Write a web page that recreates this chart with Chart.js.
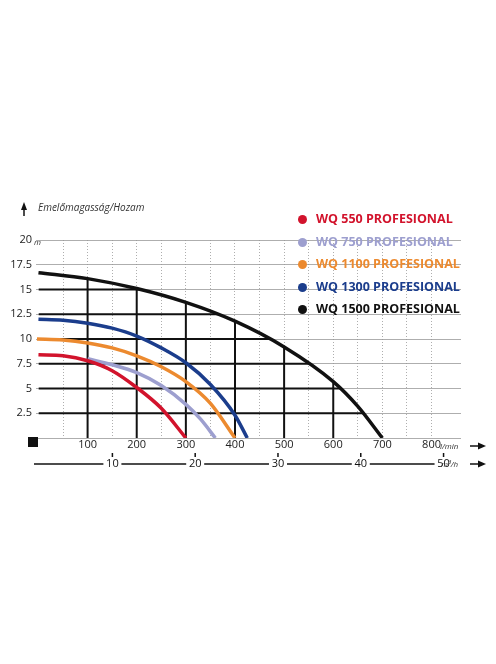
<!DOCTYPE html>
<html><head><meta charset="utf-8">
<script src="https://cdn.jsdelivr.net/npm/chart.js@4/dist/chart.umd.min.js"></script>
<style>
body{margin:0;background:#fff;font-family:"Open Sans",sans-serif;}
#wrap{position:relative;width:496px;height:664px;}
canvas{position:absolute;left:0;top:0;}
.t{position:absolute;white-space:nowrap;}
.lg{position:absolute;left:298px;font-weight:bold;font-size:12.5px;white-space:nowrap;}
.lg span{display:inline-block;width:9px;height:9px;border-radius:50%;margin-right:9px;vertical-align:-1px;}
</style></head><body>
<div id="wrap">
<canvas id="c" width="496" height="664"></canvas>
<div class="t" style="left:38px;top:200px;font-style:italic;font-size:10px;color:#333">Emelőmagasság/Hozam</div>
<div class="t" style="left:34px;top:236px;font-style:italic;font-size:8px;color:#333">m</div>
<div class="t" style="left:440px;top:440px;font-style:italic;font-size:8px;color:#333">l/min</div>
<div class="t" style="left:441px;top:458px;font-style:italic;font-size:8px;color:#333">m³/h</div>
<div id="legend"></div>
</div>
<script>
var flowLmin = [];
var series = [
  { label: "WQ 550 PROFESIONAL", color: "#d2132c",
    x: [0, 50, 100, 150, 200, 250, 300], y: [8.4, 8.3, 7.8, 6.8, 5.1, 3.0, 0] },
  { label: "WQ 750 PROFESIONAL", color: "#9d9fcf",
    x: [100, 150, 200, 250, 300, 330, 360], y: [8.0, 7.4, 6.6, 5.3, 3.4, 1.9, 0] },
  { label: "WQ 1100 PROFESIONAL", color: "#ec8a2f",
    x: [-3, 50, 100, 150, 200, 250, 300, 350, 400], y: [10, 9.9, 9.6, 9.1, 8.3, 7.2, 5.7, 3.5, 0] },
  { label: "WQ 1300 PROFESIONAL", color: "#1b3d8c",
    x: [0, 50, 100, 150, 200, 250, 300, 350, 400, 425], y: [12, 11.9, 11.6, 11.1, 10.3, 9.1, 7.6, 5.4, 2.3, 0] },
  { label: "WQ 1500 PROFESIONAL", color: "#111111",
    x: [0, 100, 200, 300, 400, 500, 600, 650, 700], y: [16.7, 16.1, 15.1, 13.7, 11.8, 9.2, 5.7, 3.2, 0] }
];
var m3Ticks = [10, 20, 30, 40, 50];
// m3/h -> l/min position as printed on the chart
var m3Offset = -18, m3Scale = 16.85;

document.getElementById("legend").innerHTML = series.map(function (s, i) {
  return '<div class="lg" style="top:' + (210 + i * 22.5) + 'px;color:' + s.color + '"><span style="background:' + s.color + '"></span>' + s.label + '</div>';
}).join("");

var extras = {
  id: "extras",
  beforeDatasetsDraw: function (chart) {
    var ctx = chart.ctx, xs = chart.scales.x, ys = chart.scales.y;
    var pts = chart.getDatasetMeta(4).data;
    ctx.save();
    ctx.beginPath();
    ctx.moveTo(xs.getPixelForValue(0), ys.getPixelForValue(0));
    pts.forEach(function (p) { ctx.lineTo(p.x, p.y); });
    ctx.closePath();
    ctx.clip();
    ctx.strokeStyle = "#111"; ctx.lineWidth = 2;
    ctx.beginPath();
    for (var v = 100; v <= 700; v += 100) {
      ctx.moveTo(xs.getPixelForValue(v), ys.getPixelForValue(0));
      ctx.lineTo(xs.getPixelForValue(v), ys.getPixelForValue(20));
    }
    for (var h = 2.5; h <= 17.5; h += 2.5) {
      ctx.moveTo(xs.getPixelForValue(0), ys.getPixelForValue(h));
      ctx.lineTo(xs.getPixelForValue(800), ys.getPixelForValue(h));
    }
    ctx.stroke();
    ctx.restore();
  },
  afterDraw: function (chart) {
    var ctx = chart.ctx, xs = chart.scales.x;
    ctx.save();
    ctx.fillStyle = "#111";
    ctx.fillRect(28, 437, 10, 10);
    // m3/h axis
    var yLine = 464;
    ctx.strokeStyle = "#111"; ctx.lineWidth = 1.5;
    ctx.font = "11px 'Open Sans'"; ctx.textAlign = "center"; ctx.textBaseline = "middle";
    var prev = 34;
    m3Ticks.forEach(function (t) {
      var px = xs.getPixelForValue(m3Offset + m3Scale * t);
      ctx.beginPath(); ctx.moveTo(prev, yLine); ctx.lineTo(px - 9, yLine); ctx.stroke();
      ctx.beginPath(); ctx.moveTo(px, 453); ctx.lineTo(px, 457); ctx.stroke();
      ctx.fillText(String(t), px, yLine);
      prev = px + 9;
    });
    // arrows
    function arrowR(x, y) {
      ctx.beginPath(); ctx.moveTo(x, y); ctx.lineTo(x + 10, y); ctx.stroke();
      ctx.beginPath(); ctx.moveTo(x + 16, y); ctx.lineTo(x + 8, y - 3.5); ctx.lineTo(x + 8, y + 3.5); ctx.fill();
    }
    arrowR(470, 446); arrowR(470, 464);
    ctx.beginPath(); ctx.moveTo(24, 216); ctx.lineTo(24, 208); ctx.stroke();
    ctx.beginPath(); ctx.moveTo(24, 202); ctx.lineTo(21, 210); ctx.lineTo(27, 210); ctx.fill();
    ctx.restore();
  }
};

new Chart(document.getElementById("c"), {
  type: "line",
  data: {
    datasets: series.map(function (s) {
      return {
        label: s.label,
        data: s.x.map(function (v, i) { return { x: v, y: s.y[i] }; }),
        borderColor: s.color, borderWidth: 3.5, pointRadius: 0,
        cubicInterpolationMode: "monotone", fill: false
      };
    })
  },
  options: {
    responsive: false, animation: false,
    layout: { padding: { top: 240, right: 35, left: 0, bottom: 0 } },
    plugins: { legend: { display: false }, tooltip: { enabled: false } },
    scales: {
      x: {
        type: "linear", min: -5, max: 860,
        afterBuildTicks: function (s) { s.ticks = s.ticks.filter(function (t) { return t.value >= 0 && t.value <= 800; }); },
        afterFit: function (s) { s.height = 664 - 438 - 240 + 240 - 240 + 0; s.height = 226; },
        ticks: { stepSize: 50, color: "#222", font: { size: 11, family: "Open Sans" }, padding: 0,
          callback: function (v) { return (v % 100 === 0 && v > 0) ? v : ""; } },
        grid: { color: "#999", lineWidth: 0.8, tickLength: 0, drawTicks: false },
        border: { display: false, dash: [1, 2] }
      },
      y: {
        min: 0, max: 20,
        afterFit: function (s) { s.width = 36; },
        ticks: { stepSize: 2.5, color: "#222", font: { size: 11, family: "Open Sans" }, padding: 4,
          callback: function (v) { return v > 0 ? v : ""; } },
        grid: { color: "#999", lineWidth: 0.8, drawTicks: false },
        border: { display: false }
      }
    }
  },
  plugins: [extras]
});
</script>
</body></html>
